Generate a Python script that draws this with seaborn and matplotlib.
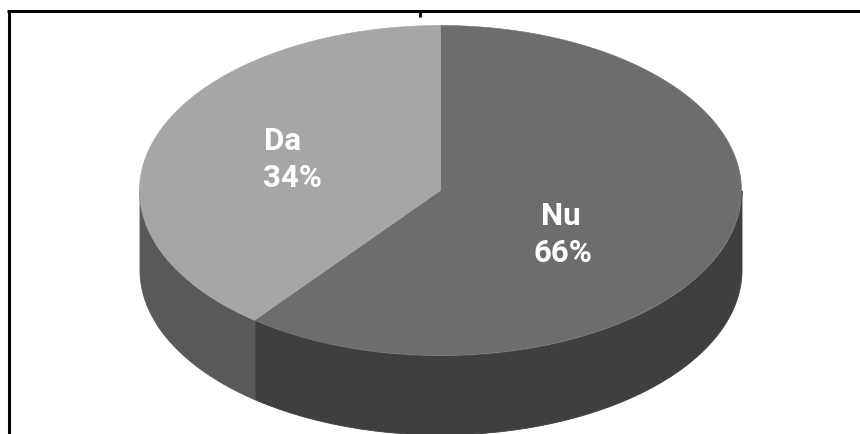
import numpy as np
import pandas as pd
import matplotlib
matplotlib.use("Agg")
import matplotlib.pyplot as plt
import seaborn as sns

categories = ["Nu", "Da"]
shares = [66, 34]
# Share of the ellipse's parameter range each slice appears to span in the picture
apparent_shares = [60.6, 39.4]
top_colors = ["#6d6d6d", "#a6a6a6"]
side_colors = ["#3f3f3f", "#595959"]

sns.set_theme(style="white")
plt.rcParams["font.family"] = ["Roboto", "Liberation Sans", "DejaVu Sans"]

df = pd.DataFrame({"cat": categories, "share": shares, "apparent": apparent_shares})

W, H = 860, 435
cx, cy, rx, ry, depth = 440.5, 191.5, 301, 165, 79

fig = plt.figure(figsize=(W / 100, H / 100), dpi=100)
ax = fig.add_axes([0, 0, 1, 1])
ax.set_xlim(0, W)
ax.set_ylim(H, 0)
ax.axis("off")


def rim(a0, a1, n=240):
    t = np.linspace(a0, a1, n)
    return cx + rx * np.sin(t), cy - ry * np.cos(t)


# slices run clockwise from the top of the ellipse
edges = np.concatenate([[0], np.cumsum(df["apparent"].to_numpy())]) / 100 * 2 * np.pi

# side wall (only the front half of the rim is visible)
for i in range(len(df)):
    lo, hi = max(edges[i], np.pi / 2), min(edges[i + 1], 3 * np.pi / 2)
    if lo < hi:
        x, y = rim(lo, hi)
        ax.fill_between(x, y, y + depth, color=side_colors[i], lw=0.6, zorder=1)

# top face
for i in range(len(df)):
    x, y = rim(edges[i], edges[i + 1])
    ax.fill(np.r_[cx, x], np.r_[cy, y], color=top_colors[i], lw=0.4, zorder=2)

# labels: each line placed on its own baseline
label_pos = {"Nu": ((561, 225), (563, 262)), "Da": ((283, 150), (292, 187))}
for _, row in df.iterrows():
    (x1, y1), (x2, y2) = label_pos[row["cat"]]
    style = dict(color="white", fontsize=22.5, fontweight="bold", ha="center",
                 va="baseline", zorder=3)
    ax.text(x1, y1, row["cat"], **style)
    ax.text(x2, y2, f"{row['share']}%", **style)

# frame: top and left rules, small tick
ax.plot([7.3, W], [12.2, 12.2], color="black", lw=2.2, solid_capstyle="butt", zorder=4)
ax.plot([8.6, 8.6], [11, H], color="black", lw=2.2, solid_capstyle="butt", zorder=4)
ax.plot([420, 420], [13, 18], color="black", lw=2, solid_capstyle="butt", zorder=4)

fig.savefig("out.png", dpi=100, facecolor="white")
